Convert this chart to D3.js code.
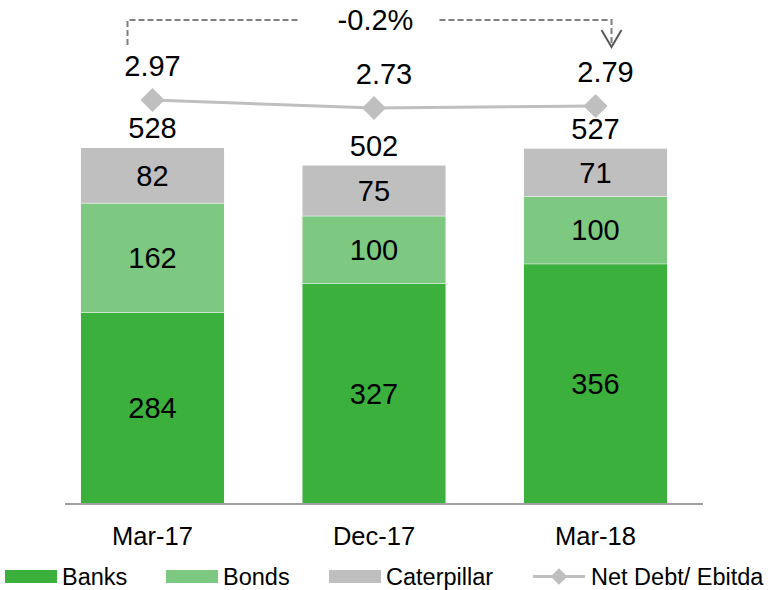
<!DOCTYPE html>
<html>
<head>
<meta http-equiv='Content-Type' content='text/html; charset=UTF-8'/>
<script src="https://cdn.jsdelivr.net/npm/d3@7/dist/d3.min.js"></script>
<style>
    body { margin: 0; background: #fff; }
    svg { font-family: "Liberation Sans", Arial, sans-serif; }
    .lbl { font-size: 29px; fill: #000; text-anchor: middle; }
    .xlbl { font-size: 25.5px; fill: #000; text-anchor: middle; }
    .leg { font-size: 23.5px; fill: #000; }
    .dash { fill: none; stroke: #7f7f7f; stroke-width: 2; stroke-dasharray: 6 3; }
</style>
</head>
<body>
<svg id="main" width="770" height="590"></svg>

<script>
    // data
    var periods = ['Mar-17', 'Dec-17', 'Mar-18'];
    var banks = [284, 327, 356];
    var bonds = [162, 100, 100];
    var caterpillar = [82, 75, 71];
    var totals = [528, 502, 527];
    var netDebtEbitda = [2.97, 2.73, 2.79];
    var changeLabel = '-0.2%';

    var seriesNames = ['Banks', 'Bonds', 'Caterpillar'];
    var colors = {Banks: '#3cb03c', Bonds: '#7dc982', Caterpillar: '#bfbfbf'};

    var rows = periods.map(function(p, i){
        return {period: p, Banks: banks[i], Bonds: bonds[i], Caterpillar: caterpillar[i],
                total: totals[i], ratio: netDebtEbitda[i]};
    });

    var svg = d3.select('#main');

    var x = d3.scaleBand()
        .domain(periods)
        .range([41.75, 706.25])
        .paddingInner(0.354)
        .paddingOuter(0.177);

    var y = d3.scaleLinear().domain([0, 528]).range([504, 148]);
    var yRatio = d3.scaleLinear().domain([0, 3]).range([199, 99]);

    var stack = d3.stack().keys(seriesNames)(rows);

    // bars
    var layers = svg.selectAll('g.layer')
        .data(stack)
        .enter().append('g')
        .attr('class', 'layer')
        .attr('fill', function(d){ return colors[d.key] });

    layers.selectAll('rect')
        .data(function(d){ return d })
        .enter().append('rect')
        .attr('x', function(d){ return x(d.data.period) })
        .attr('width', x.bandwidth())
        .attr('y', function(d){ return y(d[1]) })
        .attr('height', function(d){ return y(d[0]) - y(d[1]) });

    // thin light seams between segments
    layers.filter(function(d, i){ return i > 0 })
        .selectAll('line')
        .data(function(d){ return d })
        .enter().append('line')
        .attr('x1', function(d){ return x(d.data.period) })
        .attr('x2', function(d){ return x(d.data.period) + x.bandwidth() })
        .attr('y1', function(d){ return y(d[0]) })
        .attr('y2', function(d){ return y(d[0]) })
        .attr('stroke', '#ffffff')
        .attr('stroke-opacity', 0.5)
        .attr('stroke-width', 1);

    // segment labels
    layers.selectAll('text')
        .data(function(d){ return d })
        .enter().append('text')
        .attr('class', 'lbl')
        .attr('x', function(d){ return x(d.data.period) + x.bandwidth() / 2 })
        .attr('y', function(d){ return (y(d[0]) + y(d[1])) / 2 + 10 })
        .text(function(d){ return d[1] - d[0] });

    // totals
    svg.selectAll('text.total')
        .data(rows)
        .enter().append('text')
        .attr('class', 'lbl total')
        .attr('x', function(d){ return x(d.period) + x.bandwidth() / 2 })
        .attr('y', function(d){ return y(d.total) - 10 })
        .text(function(d){ return d.total });

    // axis baseline
    svg.append('line')
        .attr('x1', 65).attr('x2', 703)
        .attr('y1', 504).attr('y2', 504)
        .attr('stroke', '#a0a0a0')
        .attr('stroke-width', 2);

    svg.selectAll('text.xlbl')
        .data(periods)
        .enter().append('text')
        .attr('class', 'xlbl')
        .attr('x', function(d){ return x(d) + x.bandwidth() / 2 })
        .attr('y', 545)
        .text(function(d){ return d });

    // net debt / ebitda line
    var cx = function(d){ return x(d.period) + x.bandwidth() / 2 };
    var line = d3.line()
        .x(cx)
        .y(function(d){ return yRatio(d.ratio) });

    svg.append('path')
        .datum(rows)
        .attr('d', line)
        .attr('fill', 'none')
        .attr('stroke', '#bfbfbf')
        .attr('stroke-width', 3);

    var diamond = d3.symbol().type(d3.symbolSquare).size(290);
    svg.selectAll('path.pt')
        .data(rows)
        .enter().append('path')
        .attr('class', 'pt')
        .attr('d', diamond)
        .attr('fill', '#bfbfbf')
        .attr('transform', function(d){
            return 'translate(' + cx(d) + ',' + yRatio(d.ratio) + ') rotate(45)'
        });

    svg.selectAll('text.ratio')
        .data(rows)
        .enter().append('text')
        .attr('class', 'lbl ratio')
        .attr('x', function(d, i){ return cx(d) + (i ? 10 : 0) })
        .attr('y', function(d){ return yRatio(d.ratio) - 24 })
        .text(function(d){ return d.ratio.toFixed(2) });

    // change bracket on top
    var xa = cx(rows[0]) - 25, xb = cx(rows[2]) + 16, yTop = 20;
    var xmid = (xa + xb) / 2;
    svg.append('path')
        .attr('class', 'dash')
        .attr('d', 'M' + xa + ',45V' + yTop + 'H' + (xmid - 70));
    svg.append('path')
        .attr('class', 'dash')
        .attr('d', 'M' + (xmid + 70) + ',' + yTop + 'H' + xb + 'V46');
    svg.append('path')
        .attr('d', 'M' + (xb - 10) + ',30L' + xb + ',47L' + (xb + 10) + ',30')
        .attr('fill', 'none')
        .attr('stroke', '#595959')
        .attr('stroke-width', 2);
    svg.append('text')
        .attr('class', 'lbl')
        .attr('x', xmid + 6)
        .attr('y', 30)
        .text(changeLabel);

    // legend
    var legX = [5, 166, 329];
    var leg = svg.selectAll('g.legitem')
        .data(seriesNames)
        .enter().append('g')
        .attr('class', 'legitem')
        .attr('transform', function(d, i){ return 'translate(' + legX[i] + ',570)' });
    leg.append('rect')
        .attr('width', 52).attr('height', 13)
        .attr('fill', function(d){ return colors[d] });
    leg.append('text')
        .attr('class', 'leg')
        .attr('x', 57).attr('y', 15)
        .text(function(d){ return d });

    var lg = svg.append('g').attr('transform', 'translate(533,570)');
    lg.append('line')
        .attr('x1', 0).attr('x2', 52).attr('y1', 6.5).attr('y2', 6.5)
        .attr('stroke', '#bfbfbf').attr('stroke-width', 3);
    lg.append('path')
        .attr('d', d3.symbol().type(d3.symbolSquare).size(140))
        .attr('fill', '#bfbfbf')
        .attr('transform', 'translate(26,6.5) rotate(45)');
    lg.append('text')
        .attr('class', 'leg')
        .attr('x', 58).attr('y', 15)
        .text('Net Debt/ Ebitda');
</script>
</body>
</html>
